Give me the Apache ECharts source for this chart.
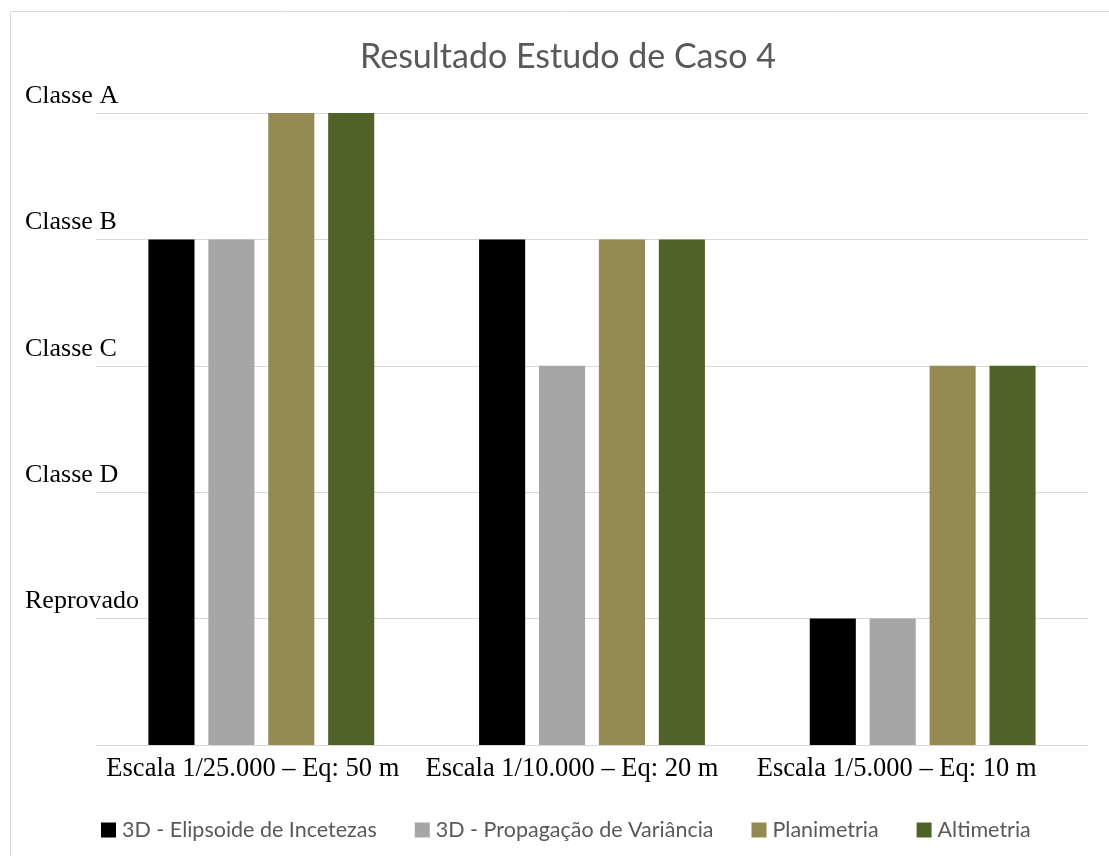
<!DOCTYPE html>
<html>
<head>
<meta charset="utf-8">
<script src="https://cdn.jsdelivr.net/npm/echarts@6/dist/echarts.min.js"></script>
<style>
  html, body { margin: 0; padding: 0; background: #fff; }
  #chart { width: 1109px; height: 856px; }
</style>
</head>
<body>
<div id="chart"></div>
<script>
// Scale categories along the x axis
const categories = [
  'Escala 1/25.000 – Eq: 50 m',
  'Escala 1/10.000 – Eq: 20 m',
  'Escala 1/5.000 – Eq: 10 m'
];

// Class levels: 1 = Reprovado ... 5 = Classe A
const levelLabels = ['', 'Reprovado', 'Classe D', 'Classe C', 'Classe B', 'Classe A'];

const seriesNames = [
  '3D - Elipsoide de Incetezas',
  '3D - Propagação de Variância',
  'Planimetria',
  'Altimetria'
];
const elipsoide = [4, 4, 1];
const propagacao = [4, 3, 1];
const planimetria = [5, 4, 3];
const altimetria = [5, 4, 3];
const seriesColors = ['#000000', '#A6A6A6', '#948A54', '#4F6228'];

const seriesData = [elipsoide, propagacao, planimetria, altimetria];

// Per-category label nudges (right padding pulls each centred label left)
const labelFont = { fontFamily: 'Liberation Serif', fontSize: 26.5, color: '#000000' };
const labelRich = {
  c0: Object.assign({ padding: [0, 17, 0, 0] }, labelFont),
  c1: Object.assign({ padding: [0, 40, 0, 0] }, labelFont),
  c2: Object.assign({ padding: [0, 52, 0, 0] }, labelFont)
};

const chart = echarts.init(document.getElementById('chart'));
chart.setOption({
  animation: false,
  backgroundColor: '#ffffff',
  graphic: [{
    type: 'rect',
    shape: { x: 10.5, y: 11.5, width: 1200, height: 1000 },
    style: { fill: 'none', stroke: '#D9D9D9', lineWidth: 1 },
    silent: true
  }],
  title: {
    text: 'Resultado Estudo de Caso 4',
    left: 355,
    top: 35,
    textStyle: {
      fontFamily: 'Lato',
      fontSize: 34,
      fontWeight: 'normal',
      color: '#595959'
    }
  },
  legend: {
    top: 814,
    left: 96,
    icon: 'rect',
    itemWidth: 15,
    itemHeight: 15,
    itemGap: 38,
    textStyle: {
      fontFamily: 'Lato',
      fontSize: 21.5,
      color: '#595959',
      padding: [0, 0, 0, 1]
    },
    data: seriesNames
  },
  grid: { left: 96, right: 21, top: 113, bottom: 111 },
  xAxis: {
    type: 'category',
    data: categories,
    axisLine: { show: true, lineStyle: { color: '#D9D9D9', width: 1 } },
    axisTick: { show: false },
    axisLabel: {
      interval: 0,
      hideOverlap: false,
      margin: 11,
      fontFamily: 'Liberation Serif',
      fontSize: 26.5,
      color: '#000000',
      formatter: (v, i) => '{c' + i + '|' + v + '}',
      rich: labelRich
    }
  },
  yAxis: {
    type: 'value',
    min: 0,
    max: 5,
    interval: 1,
    axisLine: { show: false },
    axisTick: { show: false },
    splitLine: { lineStyle: { color: '#D9D9D9', width: 1 } },
    axisLabel: {
      fontFamily: 'Liberation Serif',
      fontSize: 26,
      color: '#000000',
      align: 'left',
      verticalAlign: 'bottom',
      margin: 71,
      padding: [0, 0, 4, 0],
      formatter: v => levelLabels[v] || ''
    }
  },
  series: seriesNames.map((name, i) => ({
    name,
    type: 'bar',
    data: seriesData[i],
    barGap: '30%',
    barCategoryGap: '31.7%',
    itemStyle: { color: seriesColors[i] }
  }))
});
</script>
</body>
</html>
